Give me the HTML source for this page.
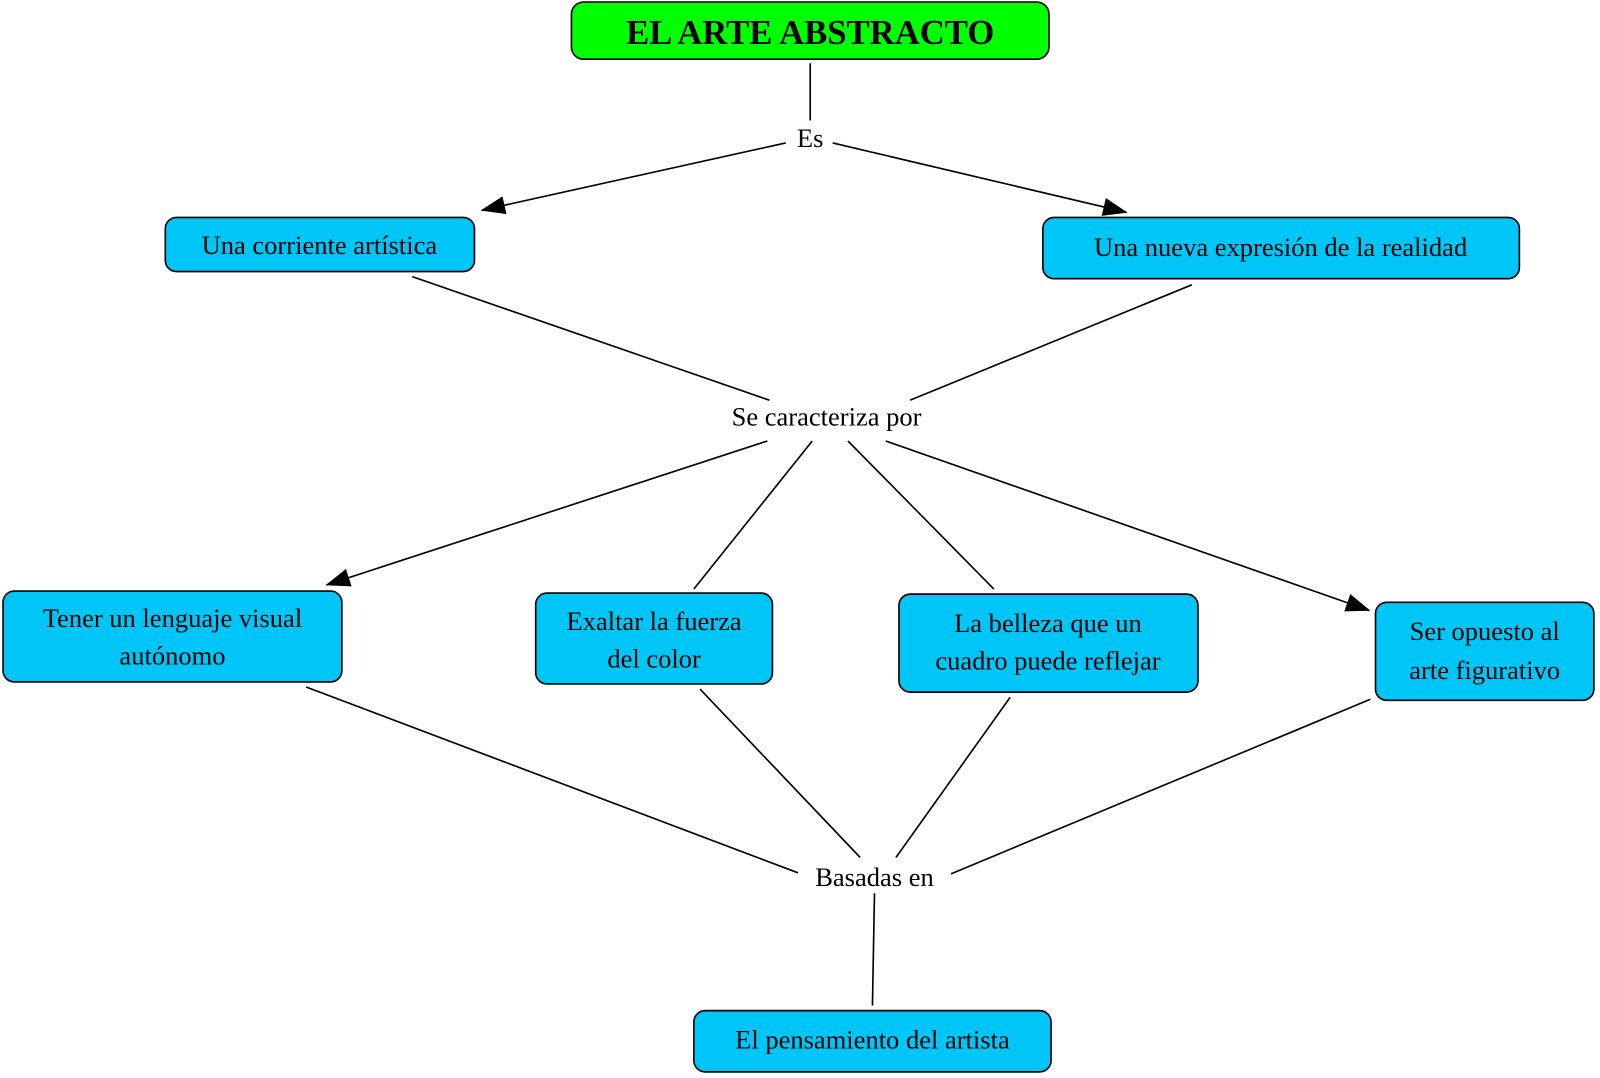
<!DOCTYPE html>
<html><head><meta charset="utf-8"><style>
html,body{margin:0;padding:0;background:#fff;}
svg{display:block;}
text{font-family:"Liberation Serif",serif;fill:#000;}
</style></head><body>
<svg width="1600" height="1078" viewBox="0 0 1568 1056" preserveAspectRatio="none" xmlns="http://www.w3.org/2000/svg">
<defs>
<marker id="a" markerWidth="12" markerHeight="10" refX="11" refY="5" orient="auto" markerUnits="userSpaceOnUse" viewBox="0 0 12 10">
<path d="M0,0 L12,5 L0,10 Z" fill="#000"/>
</marker>
<marker id="b" markerWidth="24" markerHeight="18" refX="23" refY="9" orient="auto" markerUnits="userSpaceOnUse" viewBox="0 0 24 18">
<path d="M0,0 L24,9 L0,18 Z" fill="#000"/>
</marker>
</defs>
<g stroke="#000" stroke-width="1.6" fill="none">
<line x1="794" y1="62" x2="794" y2="118"/>
<line x1="770" y1="140" x2="472" y2="206" marker-end="url(#b)"/>
<line x1="816" y1="140" x2="1104" y2="208" marker-end="url(#b)"/>
<line x1="404" y1="271" x2="754" y2="392"/>
<line x1="1168" y1="279" x2="892" y2="392"/>
<line x1="752" y1="432" x2="320" y2="573" marker-end="url(#b)"/>
<line x1="796" y1="432" x2="680" y2="577"/>
<line x1="831" y1="432" x2="974" y2="577"/>
<line x1="868" y1="432" x2="1342" y2="598" marker-end="url(#b)"/>
<line x1="300" y1="673" x2="782" y2="855"/>
<line x1="686" y1="675" x2="843" y2="840"/>
<line x1="990" y1="683" x2="878" y2="840"/>
<line x1="1343" y1="685" x2="932" y2="856"/>
<line x1="857" y1="875" x2="855" y2="985"/>
</g>
<g stroke="#000" stroke-width="1.6">
<rect x="560" y="2" width="468" height="56" rx="12" fill="#00ff00"/>
<rect x="162" y="213" width="303" height="53" rx="11" fill="#00c6f8"/>
<rect x="1022" y="213" width="467" height="60" rx="11" fill="#00c6f8"/>
<rect x="3" y="579" width="332" height="89" rx="11" fill="#00c6f8"/>
<rect x="525" y="581" width="232" height="89" rx="11" fill="#00c6f8"/>
<rect x="881" y="582" width="293" height="96" rx="11" fill="#00c6f8"/>
<rect x="1348" y="590" width="214" height="96" rx="11" fill="#00c6f8"/>
<rect x="680" y="990" width="350" height="60" rx="11" fill="#00c6f8"/>
</g>
<g font-size="26" text-anchor="middle">
<text x="794" y="43" font-size="34" font-weight="bold">EL ARTE ABSTRACTO</text>
<text x="794" y="144">Es</text>
<text x="313" y="249">Una corriente artística</text>
<text x="1255" y="251">Una nueva expresión de la realidad</text>
<text x="810" y="417">Se caracteriza por</text>
<text x="169" y="614">Tener un lenguaje visual</text>
<text x="169" y="651">autónomo</text>
<text x="641" y="617">Exaltar la fuerza</text>
<text x="641" y="654">del color</text>
<text x="1027" y="619">La belleza que un</text>
<text x="1027" y="656">cuadro puede reflejar</text>
<text x="1455" y="627">Ser opuesto al</text>
<text x="1455" y="665">arte figurativo</text>
<text x="857" y="868">Basadas en</text>
<text x="855" y="1027">El pensamiento del artista</text>
</g>
</svg>
</body></html>
